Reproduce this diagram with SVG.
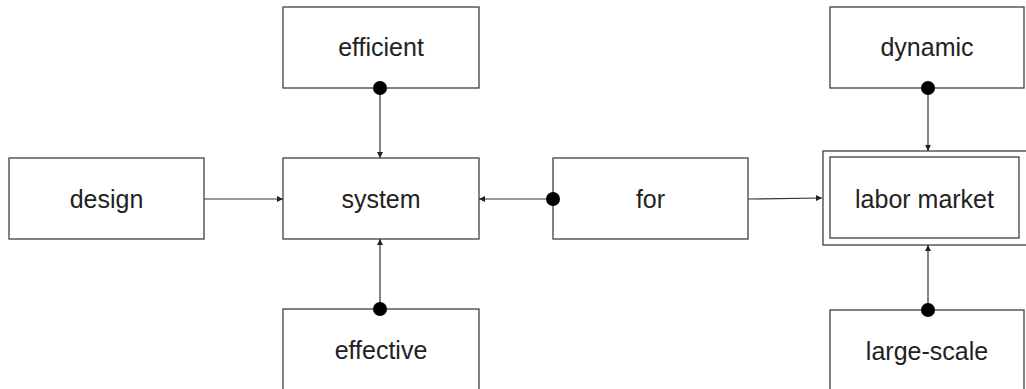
<svg xmlns="http://www.w3.org/2000/svg" width="1026" height="389" viewBox="0 0 1026 389">
  <style>
    .box { fill: #ffffff; stroke: #404040; stroke-width: 1.3; }
    .label { font-family: "Liberation Sans", Arial, sans-serif; font-size: 25px; fill: #222222; text-anchor: middle; }
    .edge { stroke: #333333; stroke-width: 1.2; fill: none; marker-end: url(#arrow); }
    .dot { fill: #000000; }
  </style>
  <defs>
    <marker id="arrow" viewBox="0 0 10 10" refX="10" refY="5" markerWidth="7" markerHeight="6" markerUnits="userSpaceOnUse" orient="auto">
      <path d="M0,0 L10,5 L0,10 z" fill="#222222"/>
    </marker>
  </defs>

  <g id="node-efficient">
    <rect class="box" x="283" y="7" width="196" height="81"/>
    <text class="label" x="381" y="56">efficient</text>
  </g>
  <g id="node-design">
    <rect class="box" x="9" y="158" width="195" height="81"/>
    <text class="label" x="106.5" y="208">design</text>
  </g>
  <g id="node-system">
    <rect class="box" x="283" y="158" width="196" height="81"/>
    <text class="label" x="381" y="208">system</text>
  </g>
  <g id="node-for">
    <rect class="box" x="553" y="158" width="195" height="81"/>
    <text class="label" x="650.5" y="208">for</text>
  </g>
  <g id="node-effective">
    <rect class="box" x="283" y="309" width="196" height="90"/>
    <text class="label" x="381" y="359">effective</text>
  </g>
  <g id="node-dynamic">
    <rect class="box" x="830" y="7" width="194" height="81"/>
    <text class="label" x="927" y="56">dynamic</text>
  </g>
  <g id="node-labor-market">
    <rect class="box" x="823" y="151" width="210" height="94"/>
    <rect class="box" x="830" y="157" width="189" height="81"/>
    <text class="label" x="924.5" y="208">labor market</text>
  </g>
  <g id="node-large-scale">
    <rect class="box" x="830" y="310" width="194" height="90"/>
    <text class="label" x="927" y="360">large-scale</text>
  </g>

  <g id="connectors">
    <line class="edge" x1="204" y1="199" x2="283" y2="199"/>
    <line class="edge" x1="380" y1="88" x2="380" y2="158"/>
    <line class="edge" x1="380" y1="309" x2="380" y2="239"/>
    <line class="edge" x1="553" y1="199" x2="479" y2="199"/>
    <line class="edge" x1="748" y1="199" x2="822" y2="198"/>
    <line class="edge" x1="928" y1="88" x2="928" y2="151"/>
    <line class="edge" x1="928" y1="310" x2="928" y2="245"/>
    <circle class="dot" cx="380" cy="88" r="7"/>
    <circle class="dot" cx="380" cy="309" r="7"/>
    <circle class="dot" cx="553" cy="199" r="7"/>
    <circle class="dot" cx="928" cy="88" r="7"/>
    <circle class="dot" cx="928" cy="310" r="7"/>
  </g>
</svg>
